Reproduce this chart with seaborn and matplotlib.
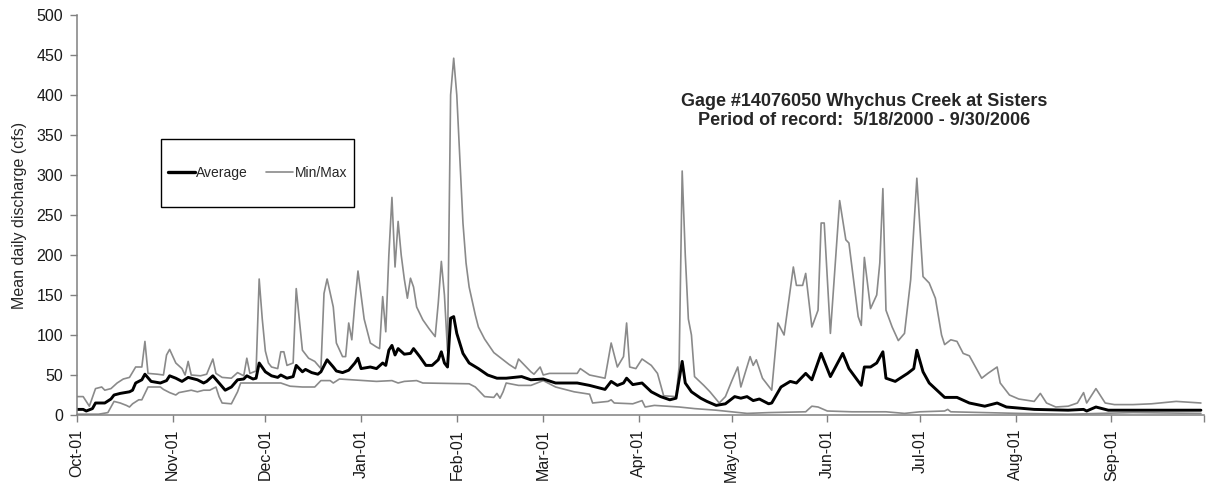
import numpy as np
import pandas as pd
import matplotlib
matplotlib.use("Agg")
import matplotlib.pyplot as plt
from matplotlib.lines import Line2D
from matplotlib.patches import Rectangle
import seaborn as sns

# day of water year (0 = Oct 1) and mean daily discharge in cfs
max_day = [0, 2, 4, 6, 8, 9, 11, 13, 15, 17, 19, 21, 22, 23, 26, 28, 29, 30, 32, 34, 35, 36, 37, 40, 42, 44, 45, 47,
           50, 52, 54, 55, 56, 58, 59, 60, 61, 62, 63, 65, 66, 67, 68, 70, 71, 73, 75, 77, 79, 80, 81, 83, 84, 86, 87,
           88, 89, 90, 91, 93, 95, 97, 98, 99, 100, 101, 102, 103, 104, 105, 106, 107, 108, 109, 110, 112, 114, 116,
           117, 118, 119, 120, 121, 122, 123, 124, 125, 126, 127, 129, 130, 132, 135, 138, 140, 142, 143, 145, 147,
           148, 150, 151, 153, 162, 163, 166, 171, 173, 175, 177, 178, 179, 181, 183, 186, 188, 190, 194, 195, 196,
           197, 198, 199, 200, 203, 205, 208, 210, 212, 214, 215, 218, 219, 220, 222, 225, 227, 229, 232, 233, 235,
           236, 238, 240, 241, 242, 244, 247, 249, 250, 253, 254, 255, 257, 259, 260, 261, 262, 264, 266, 268, 270,
           272, 274, 276, 278, 280, 281, 283, 285, 287, 289, 293, 295, 298, 299, 302, 305, 310, 312, 314, 317, 321,
           324, 326, 327, 330, 333, 336, 342, 348, 356, 364]
max_cfs = [23, 23, 11, 33, 35, 31, 33, 40, 45, 47, 60, 60, 92, 52, 51, 50, 75, 82, 65, 58, 50, 67, 50, 49, 51, 70, 52, 47,
           46, 53, 49, 71, 52, 55, 170, 120, 80, 65, 60, 58, 79, 79, 62, 65, 158, 81, 71, 67, 58, 152, 170, 135, 90, 73,
           73, 115, 94, 140, 180, 120, 90, 85, 83, 148, 104, 200, 272, 185, 242, 200, 170, 146, 171, 160, 135, 119, 108,
           98, 140, 192, 150, 80, 400, 446, 400, 319, 240, 190, 160, 125, 110, 95, 78, 69, 63, 58, 70, 62, 54, 51, 60,
           50, 52, 52, 58, 50, 46, 90, 60, 73, 115, 60, 58, 70, 62, 52, 24, 23, 60, 305, 200, 120, 100, 48, 37, 29, 15,
           23, 42, 60, 35, 73, 62, 69, 46, 31, 115, 100, 185, 162, 162, 177, 110, 131, 240, 240, 102, 268, 219, 215,
           123, 112, 197, 133, 150, 190, 283, 131, 110, 93, 102, 169, 296, 173, 165, 146, 100, 88, 94, 92, 77, 74, 46,
           52, 60, 40, 25, 20, 17, 27, 15, 10, 11, 15, 28, 15, 33, 15, 13, 13, 14, 17, 15]

avg_day = [0, 2, 3, 5, 6, 9, 11, 12, 14, 17, 18, 19, 20, 21, 22, 24, 27, 29, 30, 32, 34, 36, 39, 41, 42, 44, 46, 48, 50,
           52, 54, 55, 57, 58, 59, 61, 63, 65, 66, 68, 70, 71, 73, 74, 76, 78, 79, 81, 83, 84, 86, 88, 90, 91, 92, 95,
           97, 99, 100, 101, 102, 103, 104, 106, 108, 109, 111, 113, 115, 117, 118, 119, 120, 121, 122, 123, 125, 127,
           130, 133, 136, 139, 144, 147, 151, 155, 162, 166, 171, 173, 175, 177, 178, 180, 183, 186, 189, 192, 194,
           196, 197, 199, 202, 204, 207, 210, 213, 215, 217, 219, 221, 224, 225, 228, 231, 233, 236, 238, 241, 244,
           248, 250, 254, 255, 257, 259, 261, 262, 265, 269, 271, 272, 274, 276, 281, 285, 289, 294, 298, 301, 310,
           321, 326, 327, 330, 334, 364]
avg_cfs = [7, 7, 5, 8, 15, 15, 20, 25, 27, 29, 31, 40, 42, 44, 51, 42, 40, 43, 49, 46, 42, 47, 44, 40, 42, 49, 40, 31, 35,
           44, 45, 49, 45, 46, 65, 54, 49, 47, 50, 46, 48, 62, 54, 57, 53, 51, 54, 69, 60, 55, 53, 56, 65, 71, 58, 60,
           58, 65, 62, 81, 87, 75, 83, 76, 77, 83, 73, 62, 62, 69, 79, 65, 60, 121, 123, 102, 77, 65,
           58, 50, 46, 46, 48, 44, 45, 40, 40, 37, 32, 42, 37, 40, 46, 38, 40, 29, 23, 19, 21,
           67, 40, 29, 21, 17, 12, 14, 23, 21, 23, 18, 20, 14, 15, 35, 42, 40, 52, 44, 77, 48,
           77, 58, 37, 60, 60, 65, 79, 46, 42, 52, 58, 81, 54, 40, 22, 22, 15, 11, 15, 10, 7,
           6, 7, 5, 10, 6, 6]

min_day = [0, 7, 10, 12, 14, 16, 17, 18, 20, 21, 23, 27, 28, 30, 32, 33, 37, 39, 41, 43, 45, 46, 47, 50, 52, 53, 66, 69,
           73, 77, 79, 82, 83, 85, 89, 93, 97, 102, 104, 106, 110, 112, 127, 129, 132, 135, 136, 137, 138, 139, 143,
           147, 151, 155, 161, 166, 167, 172, 173, 174, 180, 183, 184, 187, 195, 200, 207, 212, 217, 224, 236, 238,
           240, 243, 251, 262, 268, 273, 281, 282, 283, 305, 321, 342, 364]
min_cfs = [1, 1, 3, 17, 15, 12, 10, 14, 19, 19, 35, 35, 32, 28, 25, 28, 31, 29, 31, 31, 35, 23, 15, 14, 29, 40, 40, 36,
           35, 35, 43, 43, 40, 45, 44, 43, 42, 43, 40, 42, 43, 40, 39, 35, 23, 22, 27, 21, 29, 40, 37,
           37, 43, 35, 29, 26, 15, 17, 19, 15, 14, 18, 10, 12, 10, 8, 6, 4, 2, 3, 4, 11,
           10, 5, 4, 4, 2, 4, 5, 7, 4, 2, 1, 3, 2]

tick_labels = ['Oct-01', 'Nov-01', 'Dec-01', 'Jan-01', 'Feb-01', 'Mar-01', 'Apr-01', 'May-01',
               'Jun-01', 'Jul-01', 'Aug-01', 'Sep-01', '']

assert len(max_day) == len(max_cfs)
assert len(avg_day) == len(avg_cfs)
assert len(min_day) == len(min_cfs)

start = pd.Timestamp('2000-10-01')


def to_frame(days, vals):
    return pd.DataFrame({'date': start + pd.to_timedelta(days, unit='D'), 'cfs': vals})


df_max = to_frame(max_day, max_cfs)
df_min = to_frame(min_day, min_cfs)
df_avg = to_frame(avg_day, avg_cfs)

sns.set_theme(style="ticks")
plt.rcParams['font.family'] = ['Liberation Sans', 'DejaVu Sans']

gray = '#8a8a8a'
axis_gray = '#808080'

fig = plt.figure(figsize=(12.07, 4.83), dpi=100)
ax = fig.add_axes([77 / 1207, 1 - 415 / 483, 1127 / 1207, 400 / 483])

sns.lineplot(data=df_max, x='date', y='cfs', color=gray, linewidth=1.2, ax=ax)
sns.lineplot(data=df_min, x='date', y='cfs', color=gray, linewidth=1.2, ax=ax)
sns.lineplot(data=df_avg, x='date', y='cfs', color='black', linewidth=2.1, ax=ax)

ax.set_xlim(start, start + pd.Timedelta(days=365))
ax.set_ylim(0, 500)
ax.set_yticks(np.arange(0, 501, 50))
ax.set_xticks(pd.date_range(start, periods=13, freq='MS'))
ax.set_xticklabels(tick_labels, rotation=90)
ax.set_xlabel('')
ax.set_ylabel('Mean daily discharge (cfs)', fontsize=11.5, labelpad=7)

for side in ['top', 'right']:
    ax.spines[side].set_visible(False)
for side in ['left', 'bottom']:
    ax.spines[side].set_color(axis_gray)
    ax.spines[side].set_linewidth(1.1)
ax.tick_params(axis='both', colors=axis_gray, length=5, width=1.0, labelcolor='#1a1a1a',
               labelsize=11.5, direction='out')
ax.tick_params(axis='y', pad=5)
ax.tick_params(axis='x', pad=5)

fig.text(0.716, 0.770, 'Gage #14076050 Whychus Creek at Sisters\nPeriod of record:  5/18/2000 - 9/30/2006',
         ha='center', va='center', fontsize=13, fontweight='bold', linespacing=1.2)

fig.patches.append(Rectangle((160.7 / 1207, 1 - 206.7 / 483), 193.6 / 1207, 67.4 / 483,
                             transform=fig.transFigure, fill=False, edgecolor='black', linewidth=1.0))
handles = [Line2D([], [], color='black', linewidth=2.4), Line2D([], [], color=gray, linewidth=1.2)]
fig.legend(handles, ['Average', 'Min/Max'], loc='center', bbox_to_anchor=(257.5 / 1207, 1 - 173 / 483),
           ncol=2, frameon=False, fontsize=10, handlelength=1.95, handletextpad=0.1, columnspacing=1.3)

fig.savefig('out.png', dpi=100)
